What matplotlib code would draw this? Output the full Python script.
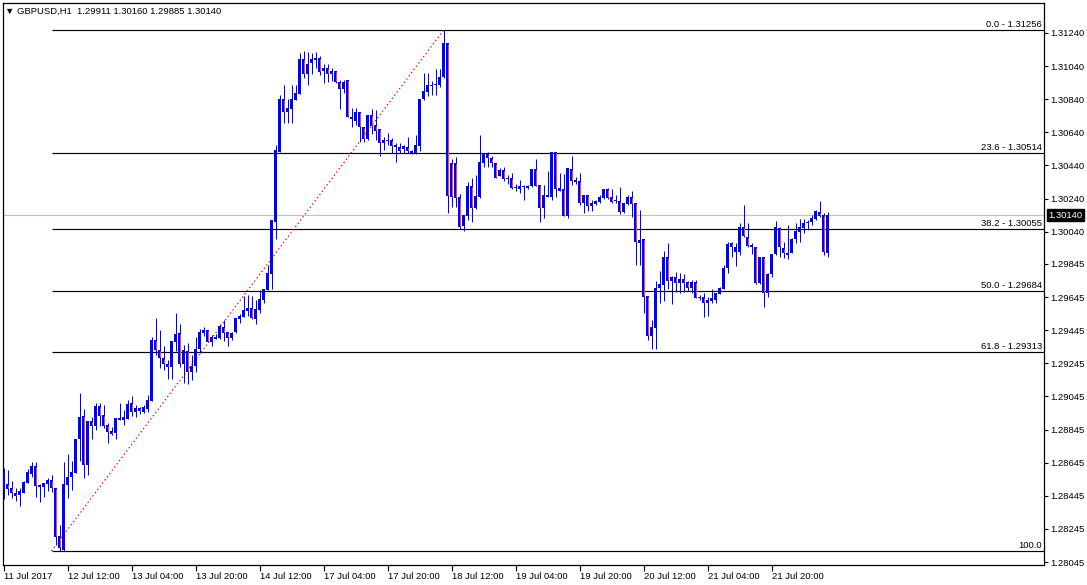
import numpy as np
import matplotlib
matplotlib.use("Agg")
import matplotlib.pyplot as plt

plt.rcParams['font.family'] = ['Liberation Sans', 'DejaVu Sans']

TITLE = "\u25bc GBPUSD,H1  1.29911 1.30160 1.29885 1.30140"

# hourly OHLC, one entry per bar (oldest first)
opens = [
    1.28480, 1.28516, 1.28492, 1.28462, 1.28450, 1.28462, 1.28522, 1.28576, 1.28625, 1.28498,
    1.28498, 1.28516, 1.28540, 1.28492, 1.28202, 1.28117, 1.28510, 1.28558, 1.28582, 1.28788,
    1.28927, 1.28631, 1.28896, 1.28866, 1.28987, 1.28933, 1.28872, 1.28836, 1.28824, 1.28903,
    1.28903, 1.28909, 1.29005, 1.28951, 1.28975, 1.28951, 1.28969, 1.29017, 1.29386, 1.29325,
    1.29277, 1.29241, 1.29223, 1.29374, 1.29428, 1.29241, 1.29319, 1.29192, 1.29229, 1.29331,
    1.29428, 1.29446, 1.29374, 1.29392, 1.29398, 1.29464, 1.29434, 1.29398, 1.29434, 1.29513,
    1.29525, 1.29561, 1.29579, 1.29513, 1.29567, 1.29627, 1.29688, 1.29784, 1.30098, 1.30521,
    1.30841, 1.30763, 1.30781, 1.30835, 1.30872, 1.31083, 1.30992, 1.31059, 1.31077, 1.31089,
    1.31010, 1.31029, 1.31010, 1.31010, 1.30944, 1.30902, 1.30956, 1.30721, 1.30708, 1.30763,
    1.30672, 1.30600, 1.30745, 1.30684, 1.30660, 1.30576, 1.30588, 1.30594, 1.30564, 1.30551,
    1.30539, 1.30551, 1.30527, 1.30515, 1.30557, 1.30841, 1.30884, 1.30920, 1.30926, 1.30926,
    1.30974, 1.31180, 1.30455, 1.30455, 1.30249, 1.30074, 1.30135, 1.30316, 1.30183, 1.30249,
    1.30455, 1.30509, 1.30485, 1.30455, 1.30376, 1.30413, 1.30358, 1.30364, 1.30304, 1.30298,
    1.30310, 1.30304, 1.30316, 1.30419, 1.30322, 1.30183, 1.30249, 1.30249, 1.30521, 1.30286,
    1.30298, 1.30135, 1.30419, 1.30340, 1.30346, 1.30213, 1.30262, 1.30195, 1.30207, 1.30219,
    1.30243, 1.30298, 1.30249, 1.30225, 1.30225, 1.30159, 1.30207, 1.30249, 1.30213, 1.29972,
    1.29996, 1.29651, 1.29410, 1.29458, 1.29700, 1.29718, 1.29887, 1.29742, 1.29766, 1.29730,
    1.29754, 1.29736, 1.29700, 1.29736, 1.29639, 1.29645, 1.29609, 1.29621, 1.29627, 1.29664,
    1.29694, 1.29821, 1.29972, 1.29917, 1.29917, 1.30068, 1.30008, 1.29947, 1.29947, 1.29730,
    1.29887, 1.29670, 1.29784, 1.29905, 1.30062, 1.29941, 1.29899, 1.29911, 1.29996, 1.30038,
    1.30062, 1.30092, 1.30098, 1.30117, 1.30159, 1.30141, 1.29911,
]
highs = [
    1.28613, 1.28601, 1.28534, 1.28492, 1.28492, 1.28534, 1.28607, 1.28649, 1.28649, 1.28516,
    1.28522, 1.28552, 1.28570, 1.28492, 1.28268, 1.28649, 1.28697, 1.28655, 1.28788, 1.29066,
    1.28969, 1.28896, 1.28921, 1.29005, 1.29005, 1.28993, 1.28884, 1.28860, 1.28915, 1.29005,
    1.28963, 1.29023, 1.29047, 1.28993, 1.28981, 1.28993, 1.29054, 1.29404, 1.29519, 1.29446,
    1.29349, 1.29265, 1.29380, 1.29549, 1.29482, 1.29356, 1.29368, 1.29295, 1.29404, 1.29452,
    1.29464, 1.29446, 1.29416, 1.29422, 1.29482, 1.29507, 1.29434, 1.29434, 1.29519, 1.29543,
    1.29651, 1.29658, 1.29651, 1.29627, 1.29688, 1.29694, 1.29839, 1.30111, 1.30564, 1.30866,
    1.30926, 1.30841, 1.30926, 1.30926, 1.31119, 1.31131, 1.31125, 1.31119, 1.31125, 1.31101,
    1.31053, 1.31053, 1.31029, 1.31010, 1.30956, 1.30956, 1.30956, 1.30787, 1.30787, 1.30763,
    1.30672, 1.30745, 1.30781, 1.30775, 1.30660, 1.30612, 1.30636, 1.30606, 1.30576, 1.30576,
    1.30564, 1.30612, 1.30533, 1.30624, 1.30841, 1.30998, 1.30998, 1.30950, 1.31023, 1.31023,
    1.31256, 1.31180, 1.30479, 1.30491, 1.30268, 1.30141, 1.30340, 1.30364, 1.30382, 1.30624,
    1.30515, 1.30521, 1.30497, 1.30455, 1.30425, 1.30431, 1.30382, 1.30394, 1.30328, 1.30352,
    1.30322, 1.30322, 1.30419, 1.30479, 1.30322, 1.30322, 1.30406, 1.30521, 1.30521, 1.30394,
    1.30388, 1.30425, 1.30497, 1.30370, 1.30394, 1.30262, 1.30262, 1.30231, 1.30231, 1.30262,
    1.30298, 1.30304, 1.30298, 1.30262, 1.30310, 1.30213, 1.30262, 1.30286, 1.30213, 1.30171,
    1.29996, 1.29651, 1.29507, 1.29742, 1.29802, 1.29923, 1.29972, 1.29772, 1.29796, 1.29790,
    1.29784, 1.29742, 1.29748, 1.29748, 1.29658, 1.29670, 1.29645, 1.29694, 1.29670, 1.29706,
    1.29839, 1.29978, 1.29978, 1.29972, 1.30092, 1.30201, 1.30092, 1.29972, 1.29947, 1.29887,
    1.29887, 1.29790, 1.29905, 1.30104, 1.30068, 1.29978, 1.30080, 1.30002, 1.30092, 1.30117,
    1.30117, 1.30111, 1.30141, 1.30171, 1.30225, 1.30153, 1.30160,
]
lows = [
    1.28425, 1.28450, 1.28431, 1.28413, 1.28383, 1.28462, 1.28522, 1.28558, 1.28437, 1.28407,
    1.28437, 1.28474, 1.28468, 1.28148, 1.28112, 1.28112, 1.28431, 1.28480, 1.28582, 1.28655,
    1.28552, 1.28570, 1.28788, 1.28842, 1.28866, 1.28854, 1.28764, 1.28812, 1.28788, 1.28903,
    1.28872, 1.28909, 1.28927, 1.28921, 1.28939, 1.28945, 1.28951, 1.29017, 1.29295, 1.29217,
    1.29205, 1.29150, 1.29150, 1.29319, 1.29223, 1.29126, 1.29120, 1.29144, 1.29192, 1.29307,
    1.29410, 1.29374, 1.29349, 1.29392, 1.29392, 1.29380, 1.29349, 1.29386, 1.29428, 1.29488,
    1.29525, 1.29531, 1.29513, 1.29482, 1.29549, 1.29609, 1.29688, 1.29694, 1.29996, 1.30521,
    1.30696, 1.30696, 1.30696, 1.30835, 1.30872, 1.30968, 1.30926, 1.30992, 1.31029, 1.30986,
    1.30938, 1.30944, 1.30950, 1.30938, 1.30781, 1.30878, 1.30733, 1.30672, 1.30684, 1.30582,
    1.30582, 1.30594, 1.30630, 1.30594, 1.30497, 1.30533, 1.30564, 1.30515, 1.30461, 1.30515,
    1.30515, 1.30515, 1.30509, 1.30509, 1.30527, 1.30835, 1.30859, 1.30866, 1.30866, 1.30914,
    1.30968, 1.30153, 1.30189, 1.30189, 1.30056, 1.30044, 1.30111, 1.30098, 1.30177, 1.30243,
    1.30431, 1.30431, 1.30431, 1.30364, 1.30376, 1.30346, 1.30328, 1.30298, 1.30286, 1.30274,
    1.30231, 1.30298, 1.30310, 1.30316, 1.30098, 1.30123, 1.30249, 1.30231, 1.30249, 1.30286,
    1.30135, 1.30123, 1.30322, 1.30328, 1.30201, 1.30153, 1.30165, 1.30165, 1.30201, 1.30213,
    1.30237, 1.30237, 1.30213, 1.30213, 1.30147, 1.30153, 1.30201, 1.30129, 1.29839, 1.29839,
    1.29549, 1.29386, 1.29331, 1.29331, 1.29609, 1.29621, 1.29694, 1.29603, 1.29676, 1.29670,
    1.29676, 1.29682, 1.29670, 1.29639, 1.29627, 1.29525, 1.29531, 1.29609, 1.29609, 1.29664,
    1.29694, 1.29790, 1.29887, 1.29833, 1.29899, 1.30008, 1.29947, 1.29905, 1.29724, 1.29724,
    1.29585, 1.29645, 1.29766, 1.29899, 1.29887, 1.29881, 1.29875, 1.29911, 1.29972, 1.29978,
    1.30032, 1.30050, 1.30080, 1.30111, 1.30129, 1.29899, 1.29885,
]
closes = [
    1.28582, 1.28486, 1.28462, 1.28443, 1.28474, 1.28528, 1.28588, 1.28625, 1.28504, 1.28510,
    1.28522, 1.28540, 1.28492, 1.28196, 1.28129, 1.28516, 1.28558, 1.28588, 1.28788, 1.28921,
    1.28631, 1.28896, 1.28866, 1.28987, 1.28927, 1.28866, 1.28830, 1.28818, 1.28915, 1.28915,
    1.28921, 1.28999, 1.28951, 1.28975, 1.28957, 1.28981, 1.29023, 1.29386, 1.29325, 1.29277,
    1.29241, 1.29223, 1.29380, 1.29422, 1.29241, 1.29325, 1.29192, 1.29229, 1.29331, 1.29434,
    1.29446, 1.29374, 1.29404, 1.29404, 1.29470, 1.29428, 1.29398, 1.29428, 1.29519, 1.29531,
    1.29567, 1.29579, 1.29519, 1.29573, 1.29633, 1.29694, 1.29790, 1.30111, 1.30533, 1.30841,
    1.30763, 1.30787, 1.30841, 1.30878, 1.31083, 1.30992, 1.31053, 1.31083, 1.31089, 1.31004,
    1.31029, 1.30992, 1.30992, 1.30944, 1.30902, 1.30944, 1.30733, 1.30733, 1.30763, 1.30672,
    1.30600, 1.30745, 1.30678, 1.30648, 1.30576, 1.30594, 1.30594, 1.30557, 1.30551, 1.30527,
    1.30557, 1.30527, 1.30515, 1.30564, 1.30841, 1.30890, 1.30926, 1.30926, 1.30928, 1.30974,
    1.31180, 1.30255, 1.30249, 1.30243, 1.30068, 1.30141, 1.30316, 1.30183, 1.30255, 1.30461,
    1.30515, 1.30485, 1.30455, 1.30364, 1.30413, 1.30358, 1.30364, 1.30304, 1.30310, 1.30316,
    1.30316, 1.30316, 1.30419, 1.30316, 1.30183, 1.30262, 1.30262, 1.30521, 1.30298, 1.30304,
    1.30135, 1.30425, 1.30346, 1.30352, 1.30213, 1.30262, 1.30195, 1.30213, 1.30225, 1.30249,
    1.30298, 1.30243, 1.30219, 1.30225, 1.30159, 1.30213, 1.30249, 1.30207, 1.29978, 1.29990,
    1.29645, 1.29410, 1.29464, 1.29700, 1.29724, 1.29887, 1.29742, 1.29766, 1.29730, 1.29754,
    1.29730, 1.29700, 1.29736, 1.29639, 1.29645, 1.29609, 1.29627, 1.29639, 1.29670, 1.29700,
    1.29821, 1.29966, 1.29947, 1.29947, 1.30068, 1.30014, 1.29953, 1.29960, 1.29730, 1.29887,
    1.29670, 1.29784, 1.29905, 1.30068, 1.29947, 1.29911, 1.29911, 1.29996, 1.30044, 1.30068,
    1.30092, 1.30098, 1.30123, 1.30165, 1.30135, 1.29917, 1.30140,
]

time_ticks = [0, 16, 32, 48, 64, 80, 96, 112, 128, 144, 160, 176, 192]
time_labels = ["11 Jul 2017", "12 Jul 12:00", "13 Jul 04:00", "13 Jul 20:00", "14 Jul 12:00",
               "17 Jul 04:00", "17 Jul 20:00", "18 Jul 12:00", "19 Jul 04:00", "19 Jul 20:00",
               "20 Jul 12:00", "21 Jul 04:00", "21 Jul 20:00"]
price_ticks = [1.31240, 1.31040, 1.30840, 1.30640, 1.30440, 1.30240, 1.30040, 1.29845,
               1.29645, 1.29445, 1.29245, 1.29045, 1.28845, 1.28645, 1.28445, 1.28245, 1.28045]

fib_levels = [0.0, 23.6, 38.2, 50.0, 61.8, 100.0]
fib_high = 1.31256
fib_low = 1.28112
fib_bar_low, fib_bar_high = 12, 110
last_price = 1.30140

BLUE = "#0000ff"
RED = "#ff4a2a"
W, H = 1087, 585
PX = 6.04e-5            # price per screen pixel
Y_LIM = (1.28027, 1.31421)
FS = 6.8

o = np.array(opens); h = np.array(highs); l = np.array(lows); c = np.array(closes)
x = np.arange(len(o))
bear = c < o

fig = plt.figure(figsize=(W / 100, H / 100), dpi=100)
ax = fig.add_axes([3 / W, 20 / H, 1041 / W, 562 / H])
ax.set_xlim(-0.125, 260.125)
ax.set_ylim(*Y_LIM)

# current price and fibonacci levels
ax.axhline(last_price, color="#c0c0c0", lw=0.8, zorder=1)
rng = fib_high - fib_low
for lvl in fib_levels:
    p = fib_high - lvl / 100 * rng
    ax.hlines(p, fib_bar_low, 260.125, color="black", lw=0.85, zorder=1)
    lab = "100.0" if lvl == 100 else f"{lvl:.1f} - {p:.5f}"
    ax.annotate(lab, (1039 / 1041, p), xycoords=("axes fraction", "data"),
                xytext=(0, 1), textcoords="offset pixels", ha="right", va="bottom", fontsize=FS)
ax.plot([fib_bar_low, fib_bar_high], [fib_low, fib_high], color="red", lw=0.85,
        ls=(0, (1.2, 2.2)), zorder=2)

# candles
ax.vlines(x, l, h, color=BLUE, lw=0.75, zorder=3)
body_lo = np.minimum(o, c)
body_h = np.maximum(np.abs(c - o), PX)
ax.bar(x, body_h, bottom=body_lo, width=0.75, color=BLUE, lw=0, zorder=4)
inner = bear & (np.abs(c - o) > 2.5 * PX)
ax.vlines(x[inner], c[inner] + PX, o[inner] - PX, color=RED, lw=0.75, zorder=5)

# axes styling
for s in ax.spines.values():
    s.set_linewidth(0.9)
    s.set_color("black")
ax.yaxis.tick_right()
ax.set_yticks(price_ticks)
ax.set_yticklabels([f"{p:.5f}" for p in price_ticks])
ax.set_xticks(time_ticks)
ax.set_xticklabels(time_labels, ha="left")
ax.tick_params(axis="y", direction="out", length=3, width=0.8, pad=1.2, labelsize=FS)
ax.tick_params(axis="x", direction="out", length=4, width=0.8, pad=1, labelsize=FS)

ax.annotate(f"{last_price:.5f}", (1.0, last_price), xycoords=("axes fraction", "data"),
            xytext=(4, 0), textcoords="offset pixels", ha="left", va="center",
            fontsize=FS, color="white",
            bbox=dict(boxstyle="square,pad=0.15", fc="black", ec="black"))

fig.text(5 / W, 1 - 11 / H, TITLE, ha="left", va="center", fontsize=FS)

fig.savefig("out.png", dpi=100)
